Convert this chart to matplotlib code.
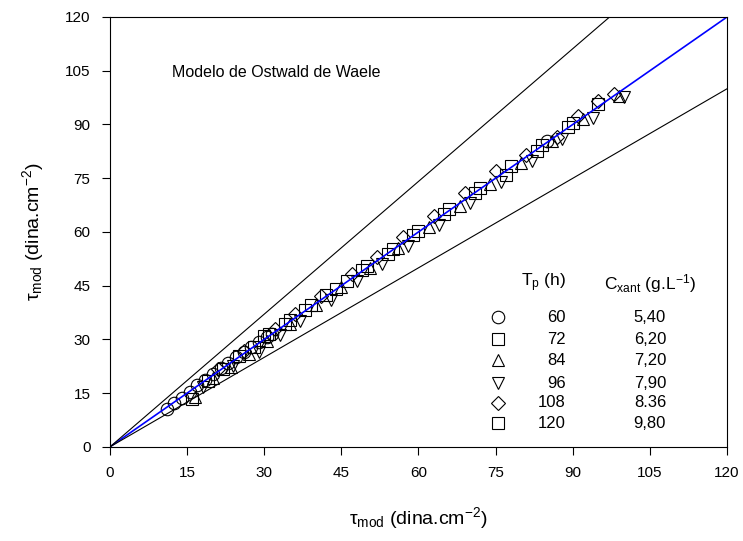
import numpy as np
import matplotlib.pyplot as plt

plt.rcParams['font.family'] = ['Liberation Sans', 'DejaVu Sans']
plt.rcParams['mathtext.fontset'] = 'custom'
plt.rcParams['mathtext.rm'] = 'Liberation Sans'
plt.rcParams['mathtext.it'] = 'Liberation Sans:italic'

# Experimental vs model shear stress (dina.cm-2) for each fermentation time
x60 = [11.0, 12.5, 14.0, 15.5, 17.0, 18.5, 20.0, 21.5, 23.0, 24.5, 26.0, 27.5, 29.0, 30.5, 31.5, 85.0]
y60 = [10.5, 12.3, 13.6, 15.4, 17.2, 18.8, 20.4, 21.9, 23.5, 25.0, 26.6, 28.0, 29.4, 30.8, 31.6, 85.5]

x72 = [16, 19, 22, 25, 28, 31, 34, 38, 42, 46, 50, 55, 60, 66, 72, 78, 84, 90]
y72 = [13.5, 18.5, 21.8, 25.3, 28.0, 31.5, 34.3, 38.2, 42.5, 46.3, 50.5, 55.3, 60.3, 66.4, 72.3, 78.5, 84.2, 90.3]

x84 = [16.5, 20, 23.5, 27, 30.5, 35, 40, 45, 50.5, 56, 62, 68, 74, 80, 86, 92, 99]
y84 = [14.0, 19.2, 22.3, 26.0, 29.5, 34.4, 39.5, 44.6, 50.0, 55.5, 61.5, 67.3, 73.4, 79.3, 85.3, 91.4, 98.0]

x96 = [18, 24, 29, 33, 37, 43, 48, 53, 58, 64, 70, 76, 82, 88, 94, 100]
y96 = [16.8, 22.5, 26.5, 31.2, 35.2, 41.0, 46.2, 51.0, 56.2, 62.0, 68.0, 74.0, 79.8, 86.0, 91.8, 97.6]

x108 = [21, 26, 32, 36, 41, 47, 52, 57, 63, 69, 75, 81, 87, 91, 95, 98]
y108 = [21.8, 26.8, 32.8, 37.0, 42.0, 48.2, 53.0, 58.5, 64.5, 70.8, 77.0, 81.5, 86.5, 92.5, 96.5, 98.5]

x120 = [30, 35, 39, 44, 49, 54, 59, 65, 71, 77, 83, 89, 95]
y120 = [31.0, 35.5, 39.5, 44.2, 49.3, 53.8, 59.2, 65.0, 70.8, 76.0, 82.5, 89.2, 95.8]

times = ['60', '72', '84', '96', '108', '120']
conc = ['5,40', '6,20', '7,20', '7,90', '8.36', '9,80']
markers = ['o', 's', '^', 'v', 'D', 's']

# deviation bands around the 1:1 line
upper_slope = 1.235
lower_slope = 0.833

fig = plt.figure(figsize=(7.43, 5.41), dpi=100)
ax = fig.add_axes([0.148, 0.174, 0.8305, 0.7946])


def marker_size(m):
    return 9 if m == 'o' else (7 if m == 'D' else 8)


series = [(x60, y60), (x72, y72), (x84, y84), (x96, y96), (x108, y108), (x120, y120)]
for (xs, ys), m in zip(series, markers):
    ax.plot(xs, ys, linestyle='none', marker=m, ms=marker_size(m), mfc='none', mec='black', mew=0.8)

line_x = np.array([0, 120])
ax.plot(line_x, line_x, color='blue', lw=1.2)
ax.plot(line_x, upper_slope * line_x, color='black', lw=0.8)
ax.plot(line_x, lower_slope * line_x, color='black', lw=0.8)

ax.set_xlim(0, 120)
ax.set_ylim(0, 120)
ticks = np.arange(0, 121, 15)
ax.set_xticks(ticks)
ax.set_yticks(ticks)
ax.tick_params(direction='out', length=6, width=0.8, labelsize=11, pad=8)
for s in ax.spines.values():
    s.set_linewidth(0.8)

ax.set_xlabel('τ$_{\\mathrm{mod}}$ (dina.cm$^{-2}$)', fontsize=14, labelpad=18)
ax.set_ylabel('τ$_{\\mathrm{mod}}$ (dina.cm$^{-2}$)', fontsize=14, labelpad=14)

ax.text(0.1005, 0.872, 'Modelo de Ostwald de Waele', transform=ax.transAxes,
        fontsize=11.5, va='center', ha='left')

# legend table
ax.text(0.739, 0.381, 'T$_{\\mathrm{p}}$ (h)', transform=ax.transAxes, fontsize=12.5,
        ha='right', va='center')
ax.text(0.875, 0.381, 'C$_{\\mathrm{xant}}$ (g.L$^{-1}$)', transform=ax.transAxes, fontsize=12.5,
        ha='center', va='center')
rows_y = [0.301, 0.250, 0.202, 0.148, 0.103, 0.055]
for ry, t, c, m in zip(rows_y, times, conc, markers):
    ax.plot([0.629], [ry], transform=ax.transAxes, linestyle='none', marker=m, ms=marker_size(m),
            mfc='none', mec='black', mew=0.8, clip_on=False)
    ax.text(0.739, ry, t, transform=ax.transAxes, fontsize=12, ha='right', va='center')
    ax.text(0.875, ry, c, transform=ax.transAxes, fontsize=12, ha='center', va='center')

fig.savefig('out.png', dpi=100)
